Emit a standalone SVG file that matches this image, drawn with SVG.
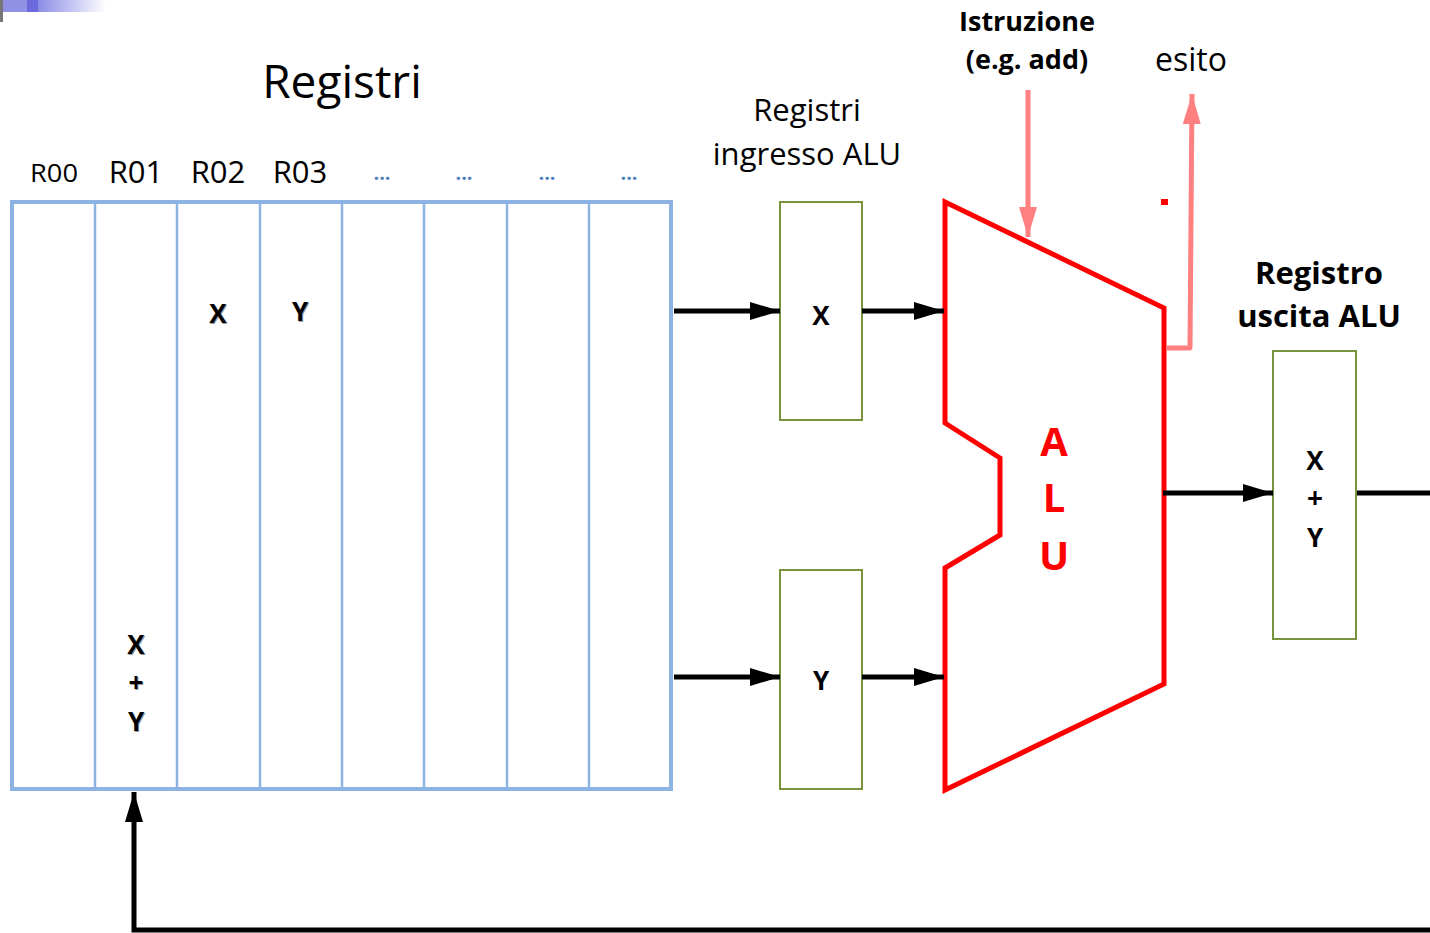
<svg xmlns="http://www.w3.org/2000/svg" width="1430" height="933" viewBox="0 0 1430 933">
<style>
text{font-family:"Open Sans","Liberation Sans",sans-serif;}
.lbl{fill:#000;text-anchor:middle;}
.b{font-weight:bold;}
.reg{fill:none;stroke:#8db3e2;}
.box{fill:#fff;stroke:#77933c;stroke-width:2;}
.wire{fill:none;stroke:#000;stroke-width:5;}
.pink{fill:none;stroke:#ff8080;stroke-width:5;}
.dots{fill:#4f81bd;font-size:20px;font-weight:bold;text-anchor:middle;}
.sh{fill:#999;}
</style>
<defs>
<linearGradient id="g" x1="0" x2="1" y1="0" y2="0">
<stop offset="0" stop-color="#8c8ce8"/>
<stop offset="1" stop-color="#ffffff"/>
</linearGradient>
<marker id="ab" markerUnits="userSpaceOnUse" markerWidth="32" markerHeight="22" refX="30" refY="11" orient="auto">
<path d="M0,2 L30,11 L0,20 Z" fill="#000"/>
</marker>
<marker id="ap" markerUnits="userSpaceOnUse" markerWidth="32" markerHeight="22" refX="30" refY="11" orient="auto">
<path d="M0,2 L30,11 L0,20 Z" fill="#ff8080"/>
</marker>
</defs>
<rect width="1430" height="933" fill="#fff"/>
<g id="deco">
<rect x="0" y="0" width="27" height="12" fill="#9090e4"/>
<rect x="27" y="0" width="11" height="12" fill="#6a6adc"/>
<rect x="38" y="0" width="68" height="12" fill="url(#g)"/>
<rect x="0" y="0" width="3" height="22" fill="#777"/>
</g>
<g id="title-registri">
<text class="lbl" x="342" y="98" font-size="46">Registri</text>
</g>
<g id="register-labels">
<text class="lbl" x="54" y="182" font-size="26" textLength="48" lengthAdjust="spacingAndGlyphs">R00</text>
<text class="lbl" x="136" y="183" font-size="31">R01</text>
<text class="lbl" x="218" y="183" font-size="31">R02</text>
<text class="lbl" x="300" y="183" font-size="31">R03</text>
<text class="dots" x="382" y="180">...</text>
<text class="dots" x="464" y="180">...</text>
<text class="dots" x="547" y="180">...</text>
<text class="dots" x="629" y="180">...</text>
</g>
<g id="register-file">
<rect class="reg" x="12" y="202" width="659" height="587" stroke-width="4"/>
<path class="reg" stroke-width="2.5" d="M95,202V789M177,202V789M260,202V789M342,202V789M424,202V789M507,202V789M589,202V789"/>
<text class="lbl sh b" x="219" y="324" font-size="26">X</text>
<text class="lbl b" x="218" y="323" font-size="26">X</text>
<text class="lbl sh b" x="301" y="322" font-size="26">Y</text>
<text class="lbl b" x="300" y="321" font-size="26">Y</text>
<text class="lbl sh b" x="137" y="655" font-size="26">X</text>
<text class="lbl b" x="136" y="654" font-size="26">X</text>
<text class="lbl sh b" x="137" y="693" font-size="26">+</text>
<text class="lbl b" x="136" y="692" font-size="26">+</text>
<text class="lbl sh b" x="137" y="732" font-size="26">Y</text>
<text class="lbl b" x="136" y="731" font-size="26">Y</text>
</g>
<g id="alu-input-label">
<text class="lbl" x="807" y="121" font-size="31">Registri</text>
<text class="lbl" x="807" y="165" font-size="31">ingresso ALU</text>
</g>
<g id="input-x">
<rect class="box" x="780" y="202" width="82" height="218"/>
<text class="lbl b" x="821" y="325" font-size="26">X</text>
</g>
<g id="input-y">
<rect class="box" x="780" y="570" width="82" height="219"/>
<text class="lbl b" x="821" y="690" font-size="26">Y</text>
</g>
<g id="alu">
<polygon points="945,202 1164,308 1164,684 945,790 945,568 1000,535 1000,458 945,423" fill="none" stroke="#ff0000" stroke-width="5" stroke-linejoin="miter"/>
<text x="1054" y="456" font-size="40" font-weight="bold" fill="#ff0000" text-anchor="middle">A</text>
<text x="1054" y="512" font-size="40" font-weight="bold" fill="#ff0000" text-anchor="middle">L</text>
<text x="1054" y="570" font-size="40" font-weight="bold" fill="#ff0000" text-anchor="middle">U</text>
<rect x="1161" y="199" width="7" height="6" fill="#ff0000"/>
</g>
<g id="instr-label">
<text class="lbl b" x="1027" y="31" font-size="27">Istruzione</text>
<text class="lbl b" x="1027" y="69" font-size="27">(e.g. add)</text>
</g>
<g id="esito-label">
<text class="lbl" x="1191" y="71" font-size="32">esito</text>
</g>
<g id="out-label">
<text class="lbl b" x="1319" y="284" font-size="31">Registro</text>
<text class="lbl b" x="1319" y="327" font-size="31">uscita ALU</text>
</g>
<g id="output-reg">
<rect class="box" x="1273" y="351" width="83" height="288"/>
<text class="lbl b" x="1315" y="470" font-size="26">X</text>
<text class="lbl b" x="1315" y="508" font-size="28">+</text>
<text class="lbl b" x="1315" y="547" font-size="26">Y</text>
</g>
<g id="connectors">
<line class="wire" x1="674" y1="311" x2="780" y2="311" marker-end="url(#ab)"/>
<line class="wire" x1="862" y1="311" x2="944" y2="311" marker-end="url(#ab)"/>
<line class="wire" x1="674" y1="677" x2="780" y2="677" marker-end="url(#ab)"/>
<line class="wire" x1="862" y1="677" x2="944" y2="677" marker-end="url(#ab)"/>
<line class="wire" x1="1163" y1="493" x2="1273" y2="493" marker-end="url(#ab)"/>
<line class="wire" x1="1357" y1="493" x2="1430" y2="493"/>
<polyline class="wire" points="1430,930 134,930 134,792" marker-end="url(#ab)"/>
<line class="pink" x1="1028" y1="90" x2="1028" y2="237" marker-end="url(#ap)"/>
<polyline class="pink" points="1166,348 1190,348 1192,94" stroke-linejoin="round" marker-end="url(#ap)"/>
</g>
</svg>
